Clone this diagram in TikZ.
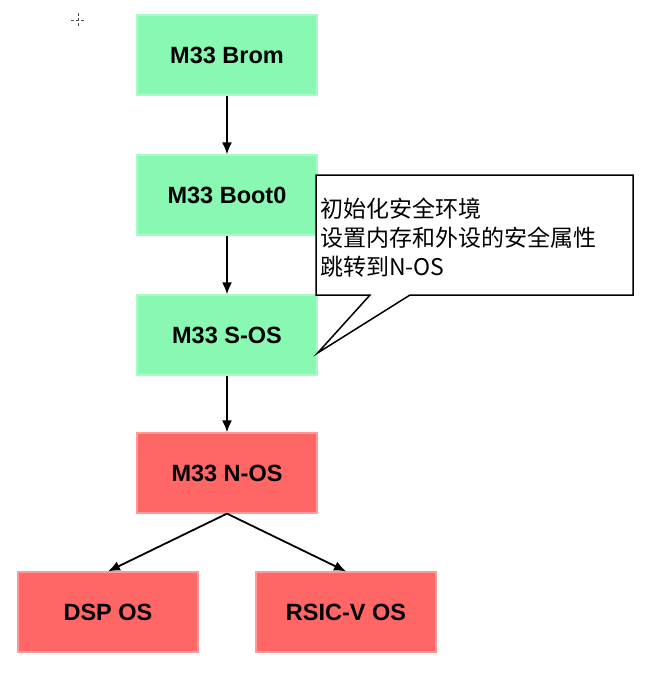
\documentclass[tikz,border=0pt]{standalone}
\usepackage{fontspec}
\setmainfont{Liberation Sans}
\newfontfamily\cjk{Noto Sans CJK SC}
\usetikzlibrary{arrows.meta}
\definecolor{bootgreen}{HTML}{88F8B2}
\definecolor{bootgreenline}{HTML}{A8FAC8}
\definecolor{osred}{HTML}{FF6666}
\definecolor{osredline}{HTML}{FF9A9A}
\tikzset{>={Latex[length=12pt,width=10pt]}}
\tikzset{
	stage/.style={minimum width=180pt, minimum height=80pt, inner sep=0pt,
		font=\fontsize{23.5}{28}\selectfont\bfseries, line width=1.2pt},
	secure/.style={stage, fill=bootgreen, draw=bootgreenline},
	normal/.style={stage, fill=osred, draw=osredline},
	link/.style={->, line width=1.8pt}
}

\begin{document}
\begin{tikzpicture}[x=1pt, y=-1pt]
	\useasboundingbox (0,0) rectangle (650,675);
	%cursor mark
	\draw[black!70, line width=0.9pt, dash pattern=on 3pt off 2pt] (71,20) -- (85,20);
	\draw[black!70, line width=0.9pt, dash pattern=on 3pt off 2pt] (78,13) -- (78,27);
	\node[secure] (brom) at (227,55) {M33 Brom};
	\node[secure] (boot) at (227,195) {M33 Boot0};
	\node[secure] (sos) at (227,335) {M33 S-OS};
	\node[normal] (nos) at (227,473) {M33 N-OS};
	\node[normal] (dsp) at (108,612) {DSP OS};
	\node[normal] (rv) at (346,612) {RSIC-V OS};
	\draw[link] (brom) -- (boot);
	\draw[link] (boot) -- (sos);
	\draw[link] (sos) -- (nos);
	\draw[link] (nos.south) -- (dsp.north);
	\draw[link] (nos.south) -- (rv.north);
	%callout
	\coordinate (tip) at (sos.east |- 0,353);
	\draw[line width=1.5pt, fill=white] (316,175) -- (633,175) -- (633,295) -- (410,295)
		-- (tip) -- (370,295) -- (316,295) -- cycle;
	\node[anchor=north west, inner sep=0pt, align=left,
		font=\cjk\fontsize{23}{29}\selectfont] (note) at (320,198)
		{初始化安全环境\\设置内存和外设的安全属性\\跳转到N-OS};
\end{tikzpicture}
\end{document}
